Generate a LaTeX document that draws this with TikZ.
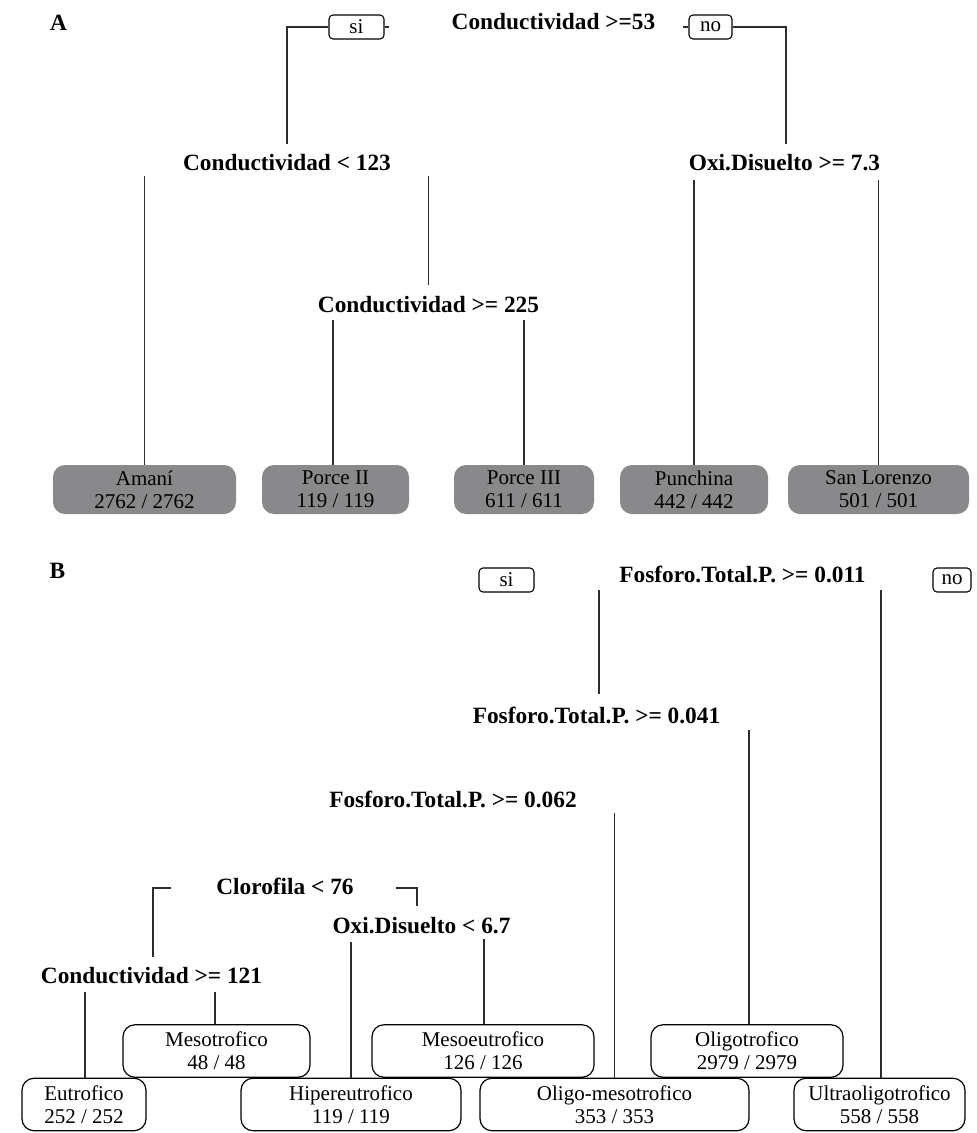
\documentclass[tikz,border=0pt]{standalone}
\usepackage{fontspec}
\setmainfont{Liberation Serif}
\usetikzlibrary{calc}
\definecolor{leafgray}{RGB}{137,136,139}
\definecolor{linegray}{RGB}{45,45,45}
\begin{document}
\begin{tikzpicture}[x=0.75pt,y=-0.75pt,
  split/.style={font=\fontsize{17.5}{20}\selectfont\bfseries, inner sep=0pt, anchor=base},
  leaftext/.style={font=\fontsize{15.75}{17.25}\selectfont, align=center, inner sep=0pt},
  leafA/.style={leaftext, rounded corners=9pt, fill=leafgray, minimum height=49*0.75pt},
  leafB/.style={leaftext, rounded corners=9pt, draw=black, fill=white, line width=0.9pt, minimum height=52.5*0.75pt},
  yesno/.style={leaftext, draw=black, fill=white, rounded corners=3pt, line width=0.8pt, minimum height=24*0.75pt},
  conn/.style={draw=linegray, line width=0.9pt}]
\useasboundingbox (0,0) rectangle (976,1133);

% ---------------- Panel A ----------------
\node[split] (labA) at (58.5,30) {A};
\node[split] (rootA) at (553.5,29) {Conductividad >=53};
\node[yesno, minimum width=55*0.75pt] (siA) at (356.5,27) {si};
\node[yesno, minimum width=43*0.75pt] (noA) at (710.5,27) {no};
\node[split] (c123) at (287,170) {Conductividad < 123};
\node[split] (oxi73) at (784.5,170) {Oxi.Disuelto >= 7.3};
\node[split] (c225) at (428.5,312) {Conductividad >= 225};

\node[leafA, minimum width=183*0.75pt] (amani) at (144.5,489.5) {Amaní\\2762 / 2762};
\node[leafA, minimum width=147*0.75pt] (porceII) at (335.5,489.5) {Porce II\\119 / 119};
\node[leafA, minimum width=140*0.75pt] (porceIII) at (524,489.5) {Porce III\\611 / 611};
\node[leafA, minimum width=148*0.75pt] (punchina) at (694,489.5) {Punchina\\442 / 442};
\node[leafA, minimum width=181*0.75pt] (sanlor) at (878.5,489.5) {San Lorenzo\\501 / 501};

\draw[conn] (siA.east) -- ++(4,0);
\draw[conn] (noA.west) -- ++(-5,0);
\draw[conn] (siA.west) -| ($(c123.base)+(0,-26)$);
\draw[conn] (noA.east) -| ($(oxi73.base)+(1.5,-26)$);
\draw[conn] (amani.north) -- ($(amani.north |- c123.base)+(0,6)$);
\draw[conn] ($(c225.base)+(0,-27)$) -- ($(c123.base -| c225.base)+(0,6)$);
\draw[conn] ($(porceII.north)+(-2.5,0)$) -- ($(porceII.north |- c225.base)+(-2.5,8)$);
\draw[conn] (porceIII.north) -- ($(porceIII.north |- c225.base)+(0,8)$);
\draw[conn] (punchina.north) -- ($(punchina.north |- oxi73.base)+(0,10)$);
\draw[conn] (sanlor.north) -- ($(sanlor.north |- oxi73.base)+(0,10)$);

% ---------------- Panel B ----------------
\node[split] (labB) at (57.5,578) {B};
\node[split] (f011) at (742.5,582) {Fosforo.Total.P. >= 0.011};
\node[yesno, minimum width=55*0.75pt] (siB) at (506.5,580) {si};
\node[yesno, minimum width=38*0.75pt] (noB) at (952,580) {no};
\node[split] (f041) at (596.5,723) {Fosforo.Total.P. >= 0.041};
\node[split] (f062) at (453,807) {Fosforo.Total.P. >= 0.062};
\node[split] (cloro) at (285,894) {Clorofila < 76};
\node[split] (oxi67) at (421.5,933) {Oxi.Disuelto < 6.7};
\node[split] (c121) at (151.5,983) {Conductividad >= 121};

\node[leafB, minimum width=187*0.75pt] (mesot) at (216.5,1051) {Mesotrofico\\48 / 48};
\node[leafB, minimum width=222*0.75pt] (mesoeu) at (483,1051) {Mesoeutrofico\\126 / 126};
\node[leafB, minimum width=192*0.75pt] (oligo) at (747,1051) {Oligotrofico\\2979 / 2979};
\node[leafB, minimum width=124*0.75pt] (eutro) at (84,1104.5) {Eutrofico\\252 / 252};
\node[leafB, minimum width=220*0.75pt] (hiper) at (351,1104.5) {Hipereutrofico\\119 / 119};
\node[leafB, minimum width=269*0.75pt] (omeso) at (614.5,1104.5) {Oligo-mesotrofico\\353 / 353};
\node[leafB, minimum width=171*0.75pt] (ultra) at (879.5,1104.5) {Ultraoligotrofico\\558 / 558};

\draw[conn] ($(f041.base)+(2.5,-29)$) -- ($(f011.base -| f041.base)+(2.5,8)$);
\draw[conn] ($(ultra.north)+(1.5,0)$) -- ($(ultra.north |- f011.base)+(1.5,8)$);
\draw[conn] ($(oligo.north)+(2,0)$) -- ($(oligo.north |- f041.base)+(2,7)$);
\draw[conn] (omeso.north) -- ($(omeso.north |- f062.base)+(0,6)$);
\draw[conn] ($(cloro.base west)+(-45,-6)$) -| ($(c121.base)+(1.5,-26)$);
\draw[conn] ($(cloro.base east)+(42,-6)$) -| ($(oxi67.base)+(-4.5,-27)$);
\draw[conn] (hiper.north) -- ($(hiper.north |- oxi67.base)+(0,9)$);
\draw[conn] ($(mesoeu.north)+(1,0)$) -- ($(mesoeu.north |- oxi67.base)+(1,6)$);
\draw[conn] ($(eutro.north)+(1,0)$) -- ($(eutro.north |- c121.base)+(1,9)$);
\draw[conn] ($(mesot.north)+(-1.5,0)$) -- ($(mesot.north |- c121.base)+(-1.5,9)$);
\end{tikzpicture}
\end{document}
